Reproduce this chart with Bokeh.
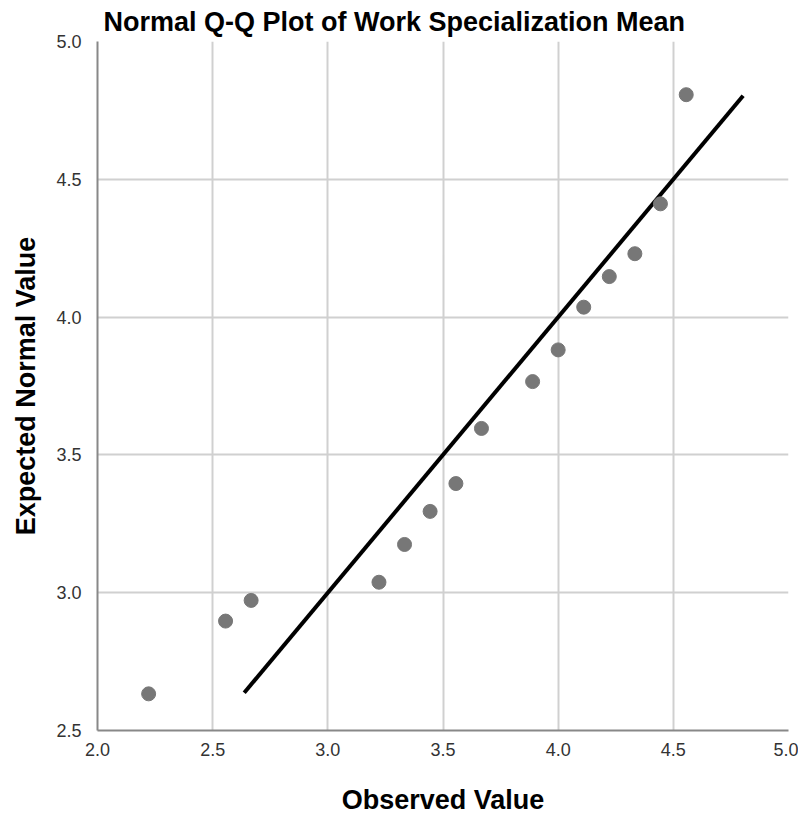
from bokeh.plotting import figure
from bokeh.embed import file_html
from bokeh.resources import INLINE
from bokeh.models import Range1d, FixedTicker, NumeralTickFormatter

title_text = "Normal Q-Q Plot of Work Specialization Mean"
x_label = "Observed Value"
y_label = "Expected Normal Value"

observed = [2.222, 2.556, 2.667, 3.222, 3.333, 3.444, 3.556, 3.667, 3.889,
            4.000, 4.111, 4.222, 4.333, 4.444, 4.556]
expected = [2.633, 2.897, 2.972, 3.038, 3.175, 3.295, 3.396, 3.596, 3.766,
            3.881, 4.036, 4.147, 4.230, 4.411, 4.807]
ref_line = [2.637, 4.803]

x_ticks = [2.0, 2.5, 3.0, 3.5, 4.0, 4.5, 5.0]
y_ticks = [2.5, 3.0, 3.5, 4.0, 4.5, 5.0]

p = figure(width=798, height=817, output_backend="svg", toolbar_location=None,
           x_range=Range1d(2.0, 5.0), y_range=Range1d(2.5, 5.0),
           min_border_left=97, min_border_right=10, min_border_top=0,
           min_border_bottom=0)

p.title.text = title_text
p.title.text_font = "Liberation Sans"
p.title.text_font_size = "27px"
p.title.text_font_style = "bold"
p.title.text_color = "#000000"
p.title.offset = 6
p.title.standoff = 9

p.line(ref_line, ref_line, line_color="black", line_width=4)
p.scatter(observed, expected, size=14, fill_color="#777777", line_color="#777777")

for ax, ticks, lab in ((p.xaxis[0], x_ticks, x_label), (p.yaxis[0], y_ticks, y_label)):
    ax.ticker = FixedTicker(ticks=ticks)
    ax.formatter = NumeralTickFormatter(format="0.0")
    ax.axis_label = lab
    ax.axis_label_text_font = "Liberation Sans"
    ax.axis_label_text_font_size = "27px"
    ax.axis_label_text_font_style = "bold"
    ax.axis_label_text_color = "#000000"
    ax.axis_label_text_line_height = 0.9
    ax.major_label_text_font = "Liberation Sans"
    ax.major_label_text_font_size = "18px"
    ax.major_label_text_color = "#333333"
    ax.major_label_text_line_height = 0.9
    ax.major_tick_line_color = None
    ax.minor_tick_line_color = None
    ax.axis_line_color = "#888888"
    ax.axis_line_width = 2

p.xaxis[0].major_label_standoff = 6
p.xaxis[0].axis_label_standoff = 26
p.yaxis[0].major_label_standoff = 10
p.yaxis[0].axis_label_standoff = 12

p.xgrid.grid_line_color = "#d0d0d0"
p.ygrid.grid_line_color = "#d0d0d0"
p.xgrid.grid_line_width = 2
p.ygrid.grid_line_width = 2
p.outline_line_color = None
p.background_fill_color = "white"

open("out.html", "w").write(file_html(p, INLINE))
